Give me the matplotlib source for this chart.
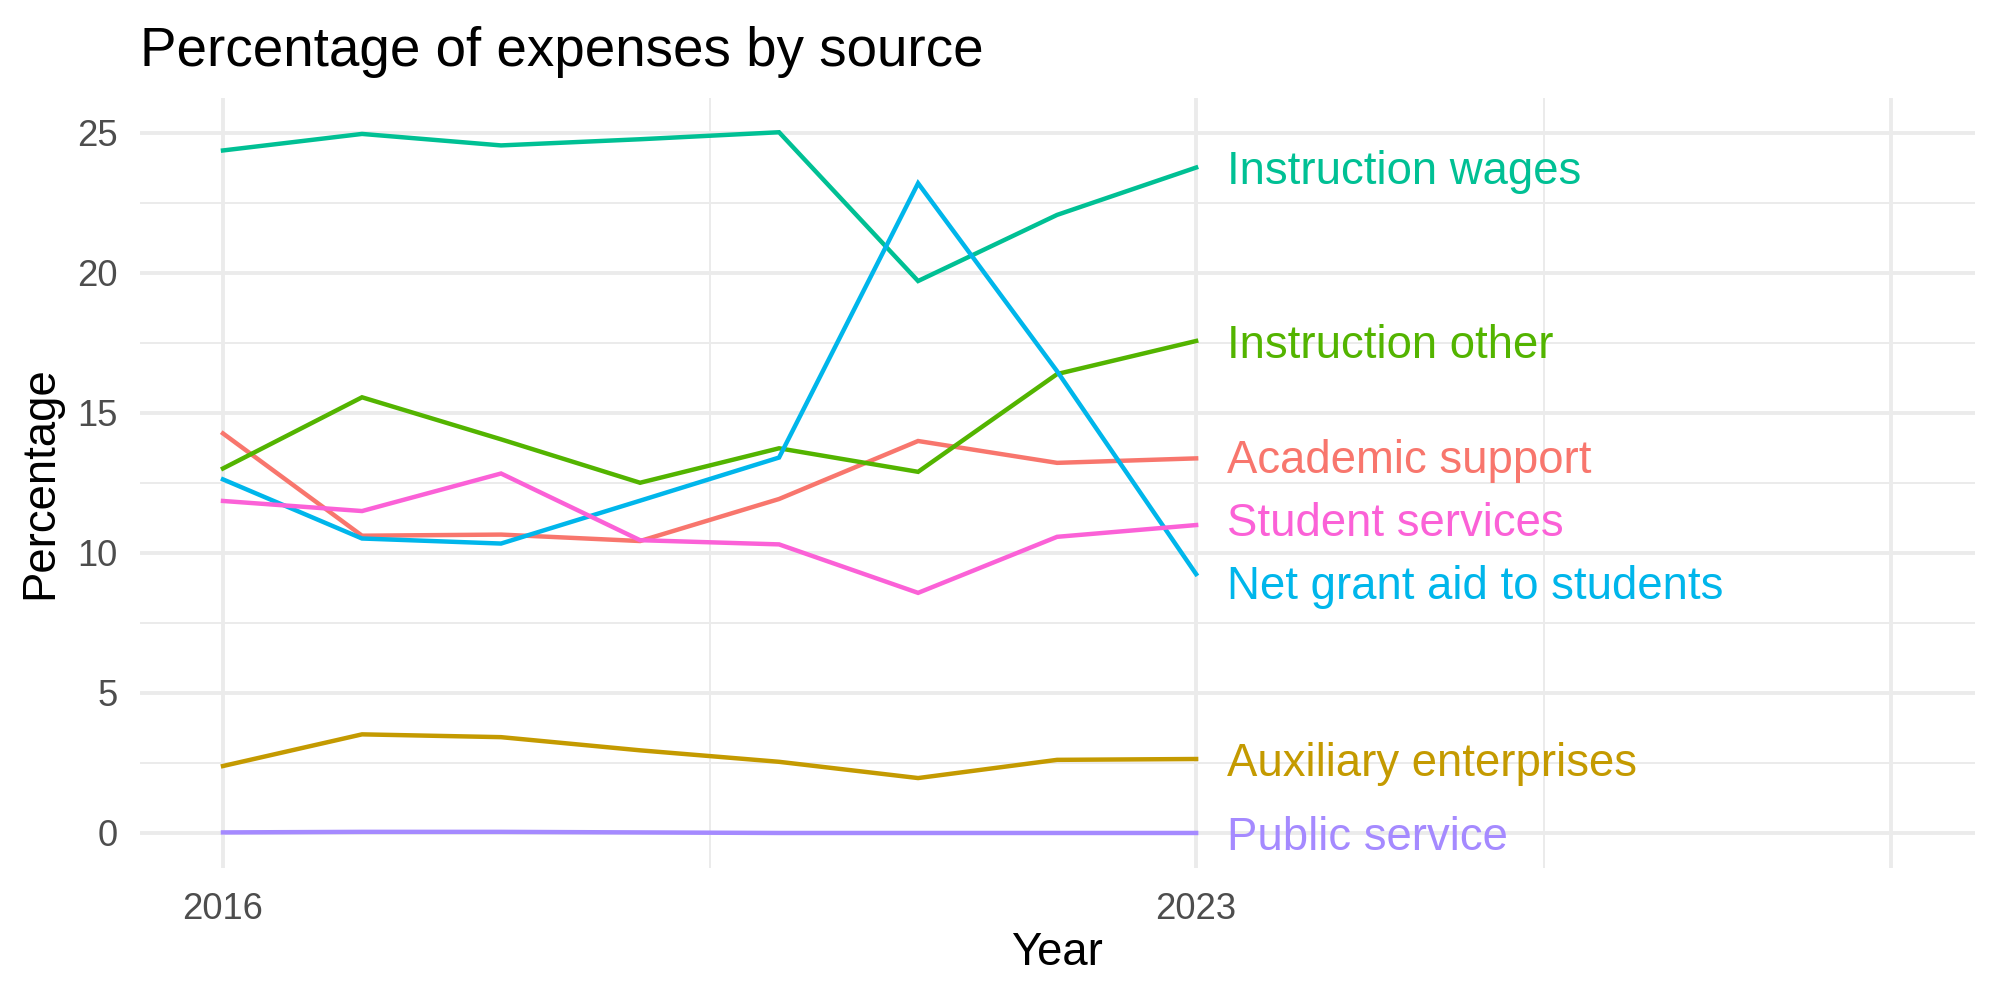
import matplotlib
matplotlib.use("Agg")
import matplotlib.pyplot as plt
import numpy as np

plt.rcParams['font.family'] = ['Liberation Sans', 'DejaVu Sans']

years = [2016, 2017, 2018, 2019, 2020, 2021, 2022, 2023]
categories = ["Academic support", "Auxiliary enterprises", "Instruction other",
              "Instruction wages", "Net grant aid to students", "Public service",
              "Student services"]
academic_support = [14.26, 10.61, 10.65, 10.42, 11.92, 13.99, 13.21, 13.37]
auxiliary_enterprises = [2.39, 3.52, 3.42, 2.95, 2.54, 1.96, 2.61, 2.64]
instruction_other = [13.01, 15.55, 14.05, 12.50, 13.73, 12.89, 16.38, 17.56]
instruction_wages = [24.36, 24.95, 24.54, 24.76, 25.01, 19.70, 22.06, 23.75]
net_grant_aid = [12.62, 10.51, 10.33, 11.86, 13.40, 23.19, 16.48, 9.24]
public_service = [0.02, 0.04, 0.04, 0.02, 0.00, 0.00, 0.00, 0.00]
student_services = [11.85, 11.49, 12.83, 10.45, 10.30, 8.57, 10.57, 10.99]

series = [academic_support, auxiliary_enterprises, instruction_other,
          instruction_wages, net_grant_aid, public_service, student_services]
colors = ["#F8766D", "#C49A00", "#53B400", "#00C094", "#00B6EB", "#A58AFF", "#FB61D7"]

fig = plt.figure(figsize=(10, 5), dpi=200)
ax = fig.add_axes([0.0698, 0.132, 0.9175, 0.7705])

for vals, col in zip(series, colors):
    ax.plot(years, vals, color=col, lw=1.6, solid_joinstyle='miter', zorder=3)

# simple label repel: push end labels apart vertically
end_vals = np.array([s[-1] for s in series], dtype=float)
lab_y = end_vals.copy()
min_gap = 2.25
order = np.argsort(end_vals)
for _ in range(200):
    moved = False
    for a, b in zip(order[:-1], order[1:]):
        gap = lab_y[b] - lab_y[a]
        if gap < min_gap - 1e-6:
            d = (min_gap - gap) / 2
            lab_y[a] -= d
            lab_y[b] += d
            moved = True
    if not moved:
        break

for name, y, col in zip(categories, lab_y, colors):
    ax.text(years[-1] + 0.22, y - 0.17, name, color=col, fontsize=16.4,
            va='center', ha='left', zorder=4)

ax.set_xlim(2015.4, 2028.6)
ax.set_ylim(-1.25, 26.25)

# grid
for v in [0, 5, 10, 15, 20, 25]:
    ax.axhline(v, color="#EBEBEB", lw=1.4, zorder=1)
for v in [2.5, 7.5, 12.5, 17.5, 22.5]:
    ax.axhline(v, color="#EBEBEB", lw=0.7, zorder=1)
for v in [2016, 2023, 2028]:
    ax.axvline(v, color="#EBEBEB", lw=1.4, zorder=1)
for v in [2019.5, 2025.5]:
    ax.axvline(v, color="#EBEBEB", lw=0.7, zorder=1)

ax.set_xticks([2016, 2023])
ax.set_xticklabels(["2016", "2023"])
ax.set_yticks([0, 5, 10, 15, 20, 25])
ax.tick_params(axis='both', length=0, labelsize=13.1, labelcolor="#4D4D4D")
ax.tick_params(axis='x', pad=8.5)
ax.tick_params(axis='y', pad=8)
for s in ax.spines.values():
    s.set_visible(False)

ax.set_xlabel("Year", fontsize=16.4)
ax.xaxis.set_label_coords(0.5, -0.11)
ax.xaxis.label.set_verticalalignment('center')
ax.set_ylabel("Percentage", fontsize=16.4)
ax.yaxis.set_label_coords(-0.054, 0.5)
ax.yaxis.label.set_verticalalignment('center')

ax.set_title("Percentage of expenses by source", loc='left', fontsize=19.7, pad=11.5)

fig.savefig("out.png", dpi=200, facecolor="white")
